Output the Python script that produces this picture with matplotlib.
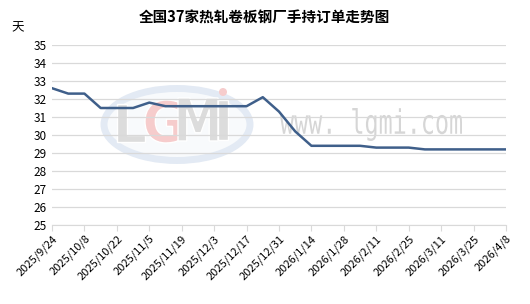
import numpy as np
import matplotlib.pyplot as plt
from matplotlib.patches import Ellipse, PathPatch
from matplotlib.textpath import TextPath
from matplotlib.font_manager import FontProperties
from matplotlib.transforms import Affine2D

plt.rcParams['font.family'] = ['Noto Sans CJK SC', 'DejaVu Sans']

title = '全国37家热轧卷板钢厂手持订单走势图'
unit = '天'
dates = ['2025/9/24', '2025/10/1', '2025/10/8', '2025/10/15', '2025/10/22', '2025/10/29',
         '2025/11/5', '2025/11/12', '2025/11/19', '2025/11/26', '2025/12/3', '2025/12/10',
         '2025/12/17', '2025/12/24', '2025/12/31', '2026/1/7', '2026/1/14', '2026/1/21',
         '2026/1/28', '2026/2/4', '2026/2/11', '2026/2/18', '2026/2/25', '2026/3/4',
         '2026/3/11', '2026/3/18', '2026/3/25', '2026/4/1', '2026/4/8']
days = [32.6, 32.3, 32.3, 31.5, 31.5, 31.5, 31.8, 31.6, 31.6, 31.6, 31.6, 31.6, 31.6,
        32.1, 31.3, 30.2, 29.4, 29.4, 29.4, 29.4, 29.3, 29.3, 29.3, 29.2, 29.2, 29.2,
        29.2, 29.2, 29.2]

W, H = 530, 304
fig = plt.figure(figsize=(W / 100, H / 100), dpi=100)
ax = fig.add_axes([52 / W, 79 / H, 454 / W, 180 / H])
ax.set_zorder(1)
ax.patch.set_visible(False)
px = Affine2D().scale(1 / 100) + fig.dpi_scale_trans  # pixel coords, origin bottom-left


def stamp(s, box, color, family='DejaVu Sans', weight='normal', ec='none'):
    # draw text s as a path stretched into pixel box (x0, top, x1, bottom)
    tp = TextPath((0, 0), s, size=1, prop=FontProperties(family=family, weight=weight))
    e = tp.get_extents()
    x0, top, x1, bot = box
    t = Affine2D().translate(-e.x0, -e.y0).scale((x1 - x0) / e.width, (bot - top) / e.height)
    t = t.translate(x0, H - bot) + px
    fig.patches.append(PathPatch(tp, transform=t, fc=color, ec=ec, lw=1, zorder=0))


# watermark
fig.patches.append(Ellipse((177, H - 124.5), 146, 72, transform=px, fc='#f8fafc',
                           ec='#e3eaf4', lw=5, zorder=0))
stamp('L', (117, 104, 145, 142), '#dcdcdc', weight='bold', ec='white')
stamp('G', (145, 100, 182, 143), '#f6cccc', weight='bold', ec='white')
stamp('M', (178, 98, 218, 141), '#dcdcdc', weight='bold', ec='white')
stamp('I', (218, 100, 228, 140), '#dcdcdc', weight='bold', ec='white')
fig.patches.append(Ellipse((223, H - 92), 8, 8, transform=px, fc='#f6cccc', ec='none', zorder=0))
stamp('www. lgmi.com', (280, 108, 462, 141), '#d6d6d6', family='DejaVu Sans Mono')

x = np.arange(len(days))
ax.plot(x, days, color='#3f5f8a', lw=1.8, zorder=3)

ax.set_xlim(0, len(days) - 1)
ax.set_ylim(25, 35)
ax.set_yticks(range(25, 36))
ax.grid(axis='y', color='#d9d9d9', lw=0.9)
ax.set_axisbelow(True)
for s in ['left', 'right', 'top']:
    ax.spines[s].set_visible(False)
ax.spines['bottom'].set_color('#d9d9d9')
ax.tick_params(axis='y', length=0, labelsize=8.5, pad=4)
ax.set_xticks(x[::2])
ax.set_xticklabels(dates[::2], rotation=45, ha='right', rotation_mode='anchor',
                   fontsize=8)
ax.tick_params(axis='x', length=4, color='#d9d9d9', pad=2)

fig.text(264 / W, 1 - 18 / H, title, ha='center', va='center', fontsize=10.5,
         fontweight='bold')
fig.text(18 / W, 1 - 28 / H, unit, ha='center', va='center', fontsize=9)

fig.savefig('out.png', dpi=100)
